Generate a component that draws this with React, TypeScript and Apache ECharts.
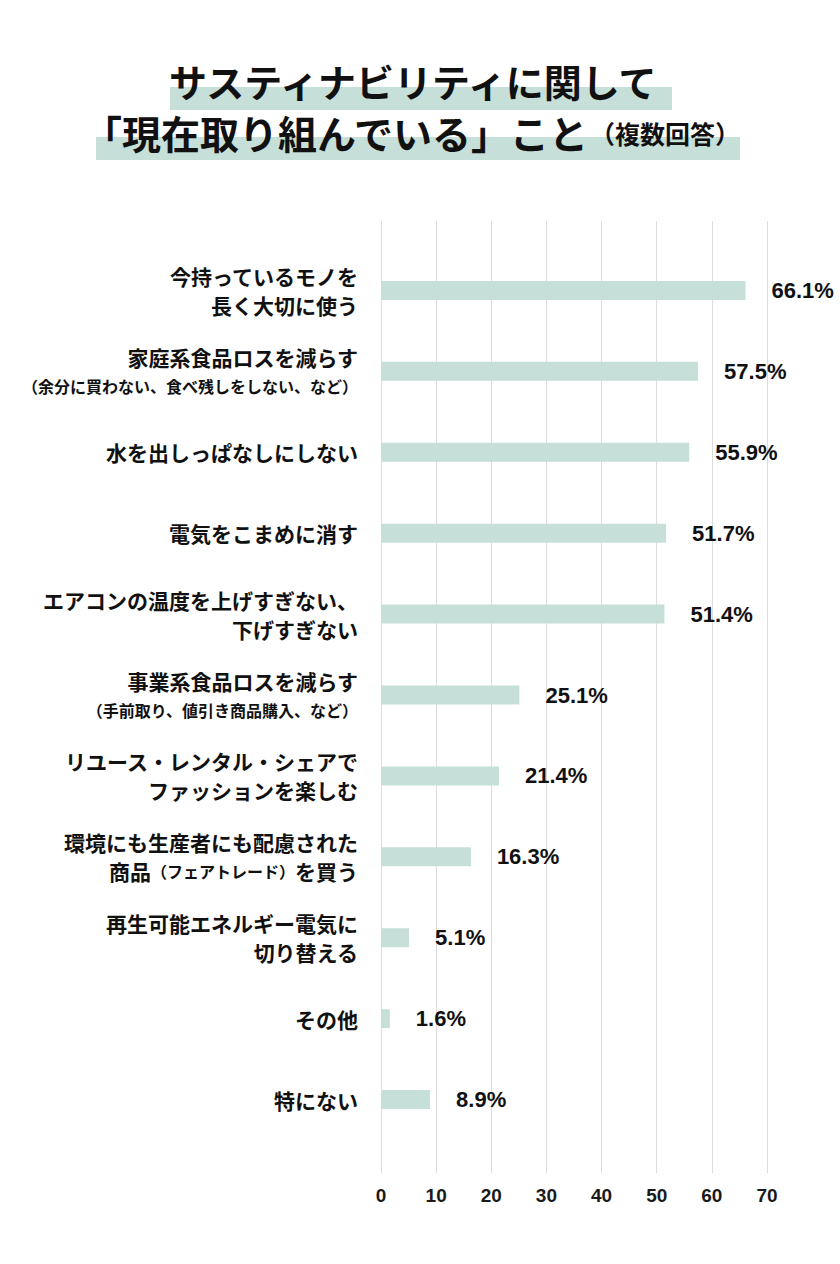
import React, { useEffect, useRef } from "react";
import * as echarts from "echarts";

const categories: string[] = [
  "今持っているモノを\n長く大切に使う",
  "家庭系食品ロスを減らす\n（余分に買わない、食べ残しをしない、など）",
  "水を出しっぱなしにしない",
  "電気をこまめに消す",
  "エアコンの温度を上げすぎない、\n下げすぎない",
  "事業系食品ロスを減らす\n（手前取り、値引き商品購入、など）",
  "リユース・レンタル・シェアで\nファッションを楽しむ",
  "環境にも生産者にも配慮された\n商品（フェアトレード）を買う",
  "再生可能エネルギー電気に\n切り替える",
  "その他",
  "特にない",
];

const values: number[] = [66.1, 57.5, 55.9, 51.7, 51.4, 25.1, 21.4, 16.3, 5.1, 1.6, 8.9];

const xTicks = { min: 0, max: 70, interval: 10 };

const titleLine1 = "サスティナビリティに関して";
const titleLine2Main = "「現在取り組んでいる」こと";
const titleLine2Sub = "（複数回答）";

const JP = '"Noto Sans CJK JP", "Noto Sans", sans-serif';
const NUM = '"Liberation Sans", Arial, sans-serif';
const GREEN = "#c6dfd8";

function formatCategory(value: string): string {
  return value
    .split("\n")
    .map((line) =>
      line
        .split(/(（[^）]*）)/)
        .filter((s) => s.length > 0)
        .map((seg) => (seg.startsWith("（") ? `{s|${seg}}` : `{m|${seg}}`))
        .join("")
    )
    .join("\n");
}

export default function App() {
  const ref = useRef<HTMLDivElement>(null);
  useEffect(() => {
    if (!ref.current) return;
    const chart = echarts.init(ref.current, undefined, { renderer: "svg" });
    chart.setOption({
      animation: false,
      backgroundColor: "#ffffff",
      grid: [
        { left: 381, right: 73, top: 250, bottom: 124 },
        { left: 381, right: 73, top: 221, bottom: 91 },
      ],
      xAxis: [
        { type: "value", gridIndex: 0, min: xTicks.min, max: xTicks.max, interval: xTicks.interval, show: false },
        {
          type: "value",
          gridIndex: 1,
          min: xTicks.min,
          max: xTicks.max,
          interval: xTicks.interval,
          axisLine: { show: false },
          axisTick: { show: false },
          splitLine: { show: true, lineStyle: { color: "#dcdcdc", width: 1 } },
          axisLabel: {
            margin: 13,
            fontFamily: NUM,
            fontSize: 19,
            fontWeight: "bold",
            color: "#1a1a1a",
          },
        },
      ],
      yAxis: [
        {
          type: "category",
          gridIndex: 0,
          data: categories,
          inverse: true,
          axisLine: { show: false },
          axisTick: { show: false },
          splitLine: { show: false },
          axisLabel: {
            margin: 23,
            align: "right",
            formatter: (v: string) => formatCategory(v),
            rich: {
              m: { fontFamily: JP, fontSize: 21, fontWeight: "bold", color: "#111", lineHeight: 29 },
              s: { fontFamily: JP, fontSize: 16, fontWeight: "bold", color: "#111", lineHeight: 29 },
            },
          },
        },
        { type: "value", gridIndex: 1, show: false },
      ],
      series: [
        {
          type: "bar",
          xAxisIndex: 0,
          yAxisIndex: 0,
          data: values,
          barWidth: 19,
          itemStyle: { color: GREEN },
          label: {
            show: true,
            position: "right",
            distance: 26,
            formatter: "{c}%",
            fontFamily: NUM,
            fontSize: 22,
            fontWeight: "bold",
            color: "#111",
          },
        },
      ],
      graphic: [
        { type: "rect", shape: { x: 170, y: 87, width: 502, height: 23 }, style: { fill: GREEN }, z: 1 },
        { type: "rect", shape: { x: 96, y: 137, width: 644, height: 23 }, style: { fill: GREEN }, z: 1 },
        {
          type: "text",
          z: 2,
          style: {
            text: titleLine1,
            x: 169,
            y: 80,
            align: "left",
            verticalAlign: "middle",
            font: `bold 38px ${JP}`,
            lineHeight: 38,
            fill: "#111",
          },
        },
        {
          type: "text",
          z: 2,
          style: {
            text: titleLine2Main,
            x: 83,
            y: 132,
            align: "left",
            verticalAlign: "middle",
            font: `bold 39px ${JP}`,
            lineHeight: 39,
            fill: "#111",
          },
        },
        {
          type: "text",
          z: 2,
          style: {
            text: titleLine2Sub,
            x: 590,
            y: 133,
            align: "left",
            verticalAlign: "middle",
            font: `bold 25px ${JP}`,
            lineHeight: 25,
            fill: "#111",
          },
        },
      ],
    });
    return () => chart.dispose();
  }, []);
  return (
    <div
      ref={ref}
      style={{ position: "absolute", left: 0, top: 0, width: 840, height: 1264 }}
    />
  );
}
